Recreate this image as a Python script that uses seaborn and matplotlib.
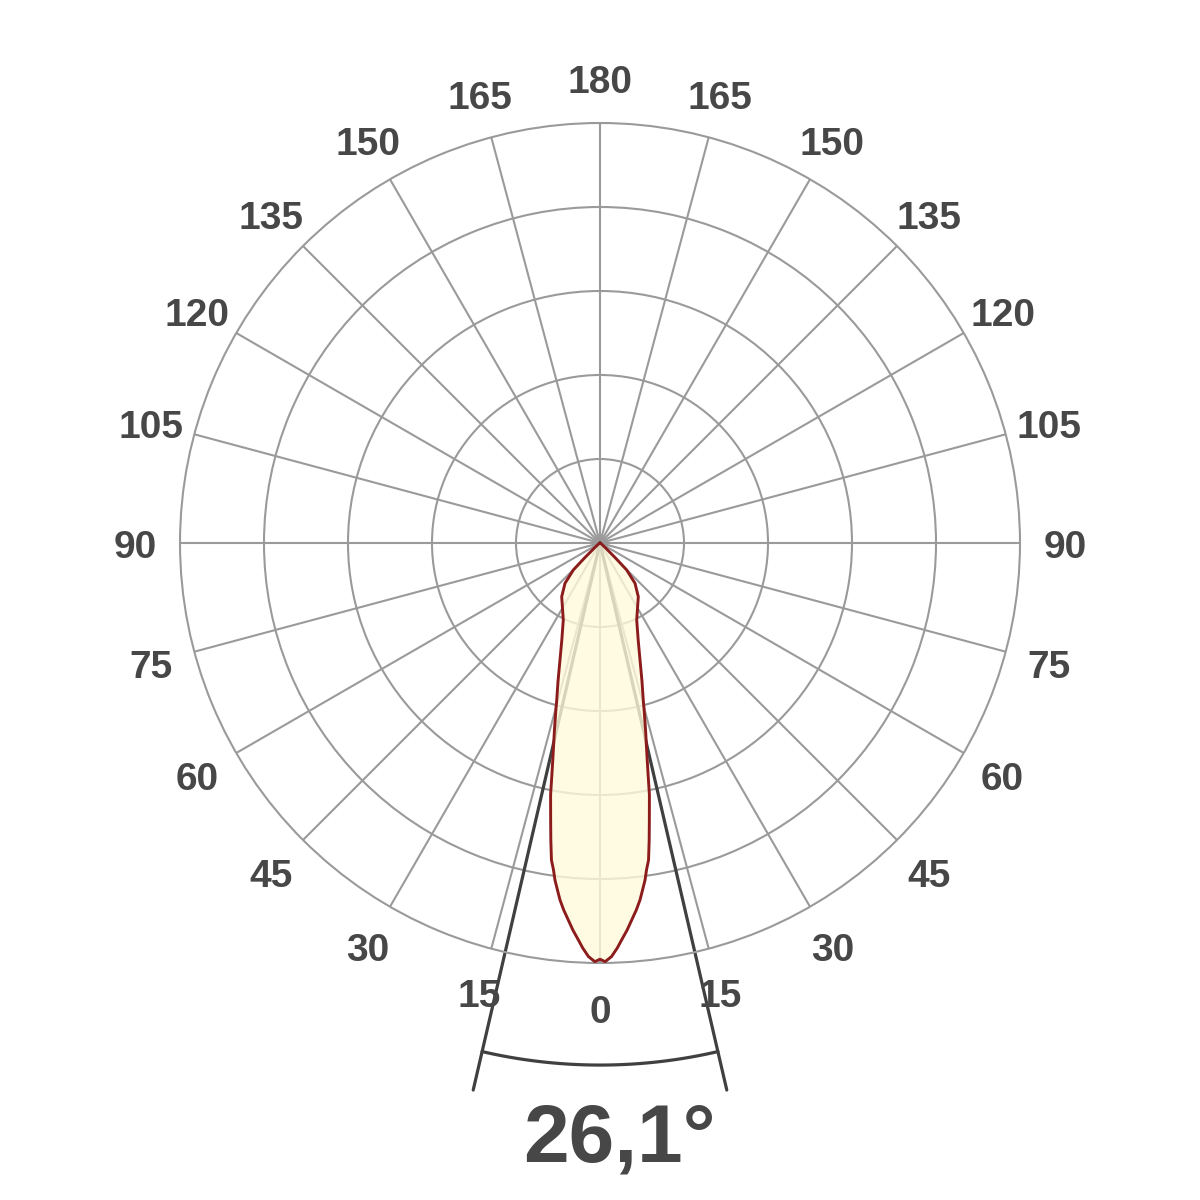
import numpy as np
import pandas as pd
import seaborn as sns
import matplotlib.pyplot as plt
from matplotlib.transforms import offset_copy

# half profile of the light distribution (angle from nadir, relative intensity)
angles = [0, 0.7, 1.6, 2.45, 3.1, 4.0, 4.8, 5.65, 6.4, 7.0, 7.6, 8.1, 8.7, 9.4, 10.1, 11.1, 11.9, 12.7, 13.7, 14.8, 15.4,
          17.0, 18.9, 21.5, 25.5, 29.1, 35.5, 41, 44.7, 46, 48, 55, 70, 90, 120, 150, 180]
intensity = [0.991, 0.997, 0.985, 0.965, 0.947, 0.924, 0.901, 0.878, 0.855, 0.832, 0.810, 0.786, 0.764, 0.717, 0.670,
             0.611, 0.552, 0.505, 0.458, 0.411, 0.388,
             0.341, 0.294, 0.248, 0.203, 0.183, 0.157, 0.127, 0.090, 0.05, 0.02, 0.005, 0, 0, 0, 0, 0]

beam_angle = 26.1
label_angles = list(range(0, 360, 15))
ring_values = [0.2, 0.4, 0.6, 0.8]

# mirror the half profile into a closed curve
full_deg = [-a for a in angles[::-1]] + angles[1:]
full_r = intensity[::-1] + intensity[1:]
df = pd.DataFrame({'theta': np.deg2rad(full_deg), 'r': full_r})

sns.set_style("white")
plt.rcParams['font.family'] = ['Liberation Sans', 'DejaVu Sans']

grid_col = '#9a9a9a'
text_col = '#474747'

fig = plt.figure(figsize=(12, 12), dpi=100)
ax = fig.add_axes([0.15, 0.1975, 0.7, 0.7], projection='polar')
ax.set_theta_zero_location('S')
ax.set_ylim(0, 1)
ax.set_thetagrids(label_angles, labels=[''] * len(label_angles))
ax.set_rgrids(ring_values, labels=[''] * len(ring_values))
ax.grid(True, color=grid_col, linewidth=1.5)
ax.spines['polar'].set_color(grid_col)
ax.spines['polar'].set_linewidth(1.5)
ax.set_axisbelow(True)

# beam angle lines and arc
half = np.deg2rad(beam_angle / 2)
for s in (-1, 1):
    ax.plot([0, s * half], [0, 1.337], color='#404040', linewidth=2.3, clip_on=False, zorder=2)
arc_t = np.linspace(-half, half, 60)
ax.plot(arc_t, np.full_like(arc_t, 1.243), color='#404040', linewidth=2.3, clip_on=False, zorder=2)

# light distribution
ax.fill(df['theta'], df['r'], color='#fffadc', alpha=0.8, zorder=3, linewidth=0)
sns.lineplot(data=df, x='theta', y='r', ax=ax, sort=False, estimator=None,
             color='#8c1c1c', linewidth=2.1, zorder=4)
ax.set_xlabel('')
ax.set_ylabel('')

# angle labels (nudged a few pixels down like the original)
lab_tr = offset_copy(ax.transData, fig=fig, x=0, y=-5, units='dots')
for a in label_angles:
    val = a if a <= 180 else 360 - a
    ax.text(np.deg2rad(a), 1.107, str(val), ha='center', va='center', fontsize=28,
            fontweight='bold', color=text_col, clip_on=False, transform=lab_tr)

fig.text(619 / 1200, 1 - 1162 / 1200, f"{beam_angle:.1f}°".replace('.', ','), ha='center', va='baseline',
         fontsize=59, fontweight='bold', color=text_col)

fig.savefig('out.png', dpi=100, facecolor='white')
